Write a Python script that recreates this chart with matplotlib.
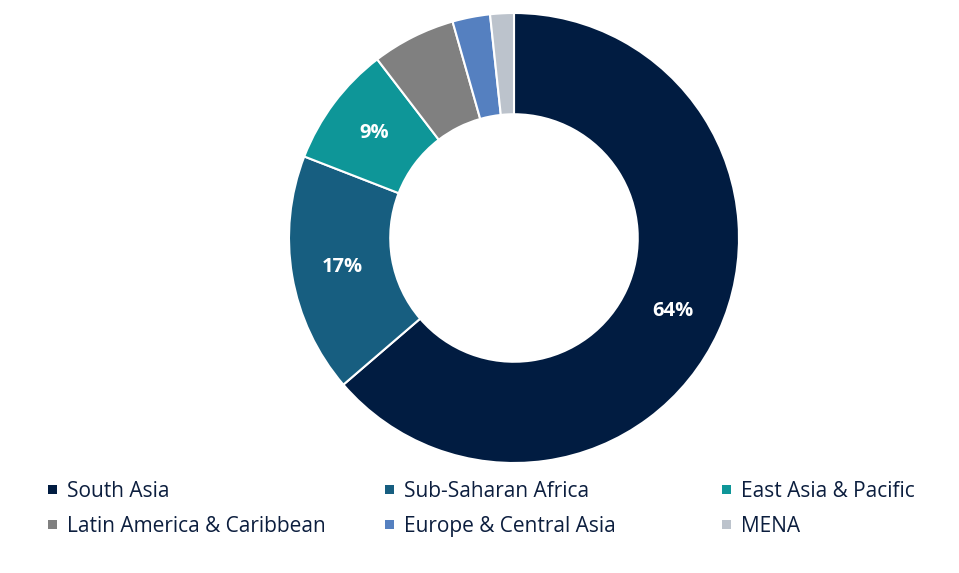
import matplotlib.pyplot as plt
from matplotlib.patches import Rectangle
import numpy as np

regions = ['South Asia', 'Sub-Saharan Africa', 'East Asia & Pacific',
           'Latin America & Caribbean', 'Europe & Central Asia', 'MENA']
shares = [63.7, 17.2, 8.7, 6.0, 2.7, 1.7]
labels = ['64%', '17%', '9%', '', '', '']
colors = ['#011c41', '#175e80', '#0e9698', '#808080', '#5580c0', '#bcc3cc']

plt.rcParams['font.family'] = ['Open Sans', 'DejaVu Sans']

W, H = 959, 573
fig = plt.figure(figsize=(W / 100, H / 100), dpi=100)

# donut: centre (514, 238) px, outer radius 225 px
cx, cy, r = 514, 238, 225
ax = fig.add_axes([(cx - r) / W, (H - cy - r) / H, 2 * r / W, 2 * r / H])
ax.pie(shares, colors=colors, startangle=90, counterclock=False, radius=1,
       wedgeprops=dict(width=0.45, edgecolor='white', linewidth=1.5))
ax.set_xlim(-1, 1)
ax.set_ylim(-1, 1)
ax.set_aspect('equal')
ax.axis('off')

total = sum(shares)
start = 90.0
for val, lab in zip(shares, labels):
    ang = np.deg2rad(start - val / total * 180)
    start -= val / total * 360
    if lab:
        ax.text(0.775 * np.cos(ang), 0.775 * np.sin(ang), lab, ha='center', va='center',
                color='white', fontsize=14.5, fontweight='bold')

# legend, laid out by hand in 3 columns
col_x = [48, 385, 722]
row_y = [489, 524]
for i, (name, c) in enumerate(zip(regions, colors)):
    x = col_x[i % 3]
    y = row_y[i // 3]
    fig.patches.append(Rectangle((x / W, (H - y - 4.5) / H), 8.5 / W, 9 / H,
                                 facecolor=c, edgecolor='none', transform=fig.transFigure))
    fig.text((x + 19) / W, (H - y) / H, name, ha='left', va='center_baseline',
             fontsize=15, color='#0c1e3e')

fig.savefig('out.png', dpi=100)
